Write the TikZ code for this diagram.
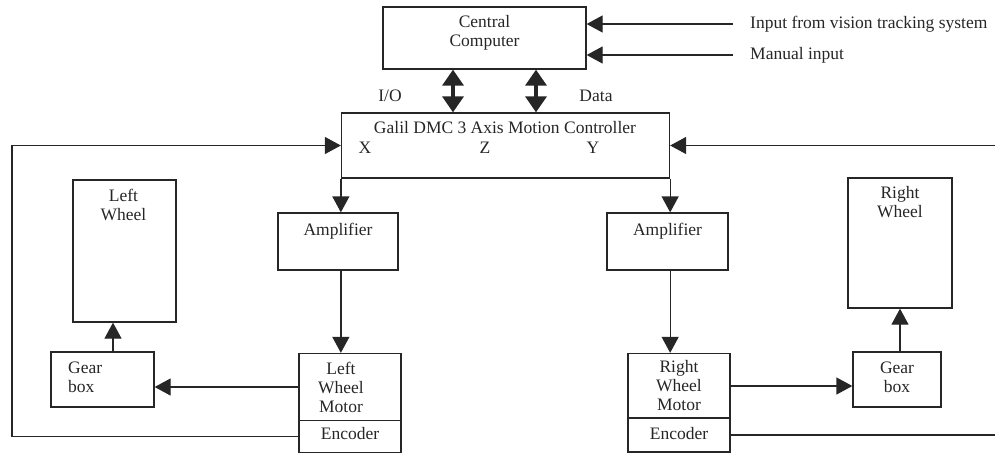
\documentclass[tikz,border=0pt]{standalone}
\usepackage{fontspec}
\setmainfont{Liberation Serif}
\usetikzlibrary{arrows.meta,calc}
\definecolor{ink}{HTML}{262626}
\begin{document}
\begin{tikzpicture}[x=1pt,y=-1pt,
  every node/.style={font=\fontsize{17.5}{19}\selectfont, text=ink, inner sep=0pt},
  blk/.style={draw=ink, line width=1.3pt, rectangle},
  lbl/.style={align=center},
  conn/.style={draw=ink, line width=1.3pt},
  arr/.style={conn, -{Triangle[length=16pt,width=17pt]}},
  dbl/.style={draw=ink, line width=3.5pt, {Triangle[length=16pt,width=21pt]}-{Triangle[length=16pt,width=21pt]}}]
\useasboundingbox (0,0) rectangle (995,453);
% boxes
\node[blk, minimum width=203, minimum height=62] (cc) at (484.5,38) {};
\node[lbl] (cctxt) at (484.5,32.5) {Central\\Computer};
\node[blk, minimum width=328, minimum height=65] (galil) at (505.5,145.5) {};
\node (galtxt) at (505,128) {Galil DMC 3 Axis Motion Controller};
\node (gx) at (365,148) {X};
\node (gz) at (485,148) {Z};
\node (gy) at (593,148) {Y};
\node (io) at (390,96) {I/O};
\node (data) at (596,96) {Data};
\node[blk, minimum width=120, minimum height=57] (ampL) at (338,241.5) {};
\node (ampLt) at (338,231) {Amplifier};
\node[blk, minimum width=121, minimum height=57] (ampR) at (667.5,241.5) {};
\node (ampRt) at (667.5,231) {Amplifier};
\node[blk, minimum width=103, minimum height=142] (wheelL) at (124.5,251) {};
\node[lbl] (wheelLt) at (123.5,205) {Left\\Wheel};
\node[blk, minimum width=104, minimum height=130] (wheelR) at (900,243) {};
\node[lbl] (wheelRt) at (900,202) {Right\\Wheel};
\node[blk, minimum width=103, minimum height=55] (gearL) at (102.5,379.5) {};
\node[align=left, anchor=west] (gearLt) at (68,377) {Gear\\box};
\node[blk, minimum width=88, minimum height=55] (gearR) at (897,379.5) {};
\node[lbl] (gearRt) at (897,377) {Gear\\box};
\node[blk, minimum width=102, minimum height=67] (motorL) at (350,387) {};
\node[lbl] (motorLt) at (341,387) {Left\\Wheel\\Motor};
\node[blk, minimum width=102, minimum height=32] (encL) at (350,436.5) {};
\node (encLt) at (350,434) {Encoder};
\node[blk, minimum width=102, minimum height=65] (motorR) at (679,386) {};
\node[lbl] (motorRt) at (679,386) {Right\\Wheel\\Motor};
\node[blk, minimum width=102, minimum height=34] (encR) at (679,435) {};
\node (encRt) at (679,434) {Encoder};
% external inputs
\node[anchor=west] (vis) at (750,24) {Input from vision tracking system};
\node[anchor=west] (man) at (750,55) {Manual input};
\coordinate (visS) at (733,24);
\coordinate (manS) at (733,55);
\draw[arr] (visS) -- (visS -| cc.east);
\draw[arr] (manS) -- (manS -| cc.east);
% computer <-> controller
\draw[dbl] ([xshift=-31.5pt]cc.south) -- ([xshift=-31.5pt]cc.south |- galil.north);
\draw[dbl] ([xshift=51.5pt]cc.south) -- ([xshift=51.5pt]cc.south |- galil.north);
% controller -> amplifiers -> motors
\draw[arr] (galil.south west) -- (galil.south west |- ampL.north);
\draw[arr] (galil.south east) -- (galil.south east |- ampR.north);
\draw[arr] (galil.south west |- ampL.south) -- (galil.south west |- motorL.north);
\draw[arr] (galil.south east |- ampR.south) -- (galil.south east |- motorR.north);
% motors -> gear boxes -> wheels
\draw[arr] (motorL.west) -- (motorL.west -| gearL.east);
\draw[arr] (motorR.east) -- (motorR.east -| gearR.west);
\draw[arr] ([xshift=10.5pt]gearL.north) -- ([xshift=10.5pt]gearL.north |- wheelL.south);
\draw[arr] ([xshift=3pt]gearR.north) -- ([xshift=3pt]gearR.north |- wheelR.south);
% feedback
\coordinate (fbL) at (12,300);
\coordinate (edgeR) at (995,300);
\draw[arr] (encL.west) -| (fbL) |- (galil.west);
\draw[conn] (encR.east) -- (encR.east -| edgeR);
\draw[arr] (edgeR |- galil.east) -- (galil.east);
\end{tikzpicture}
\end{document}
